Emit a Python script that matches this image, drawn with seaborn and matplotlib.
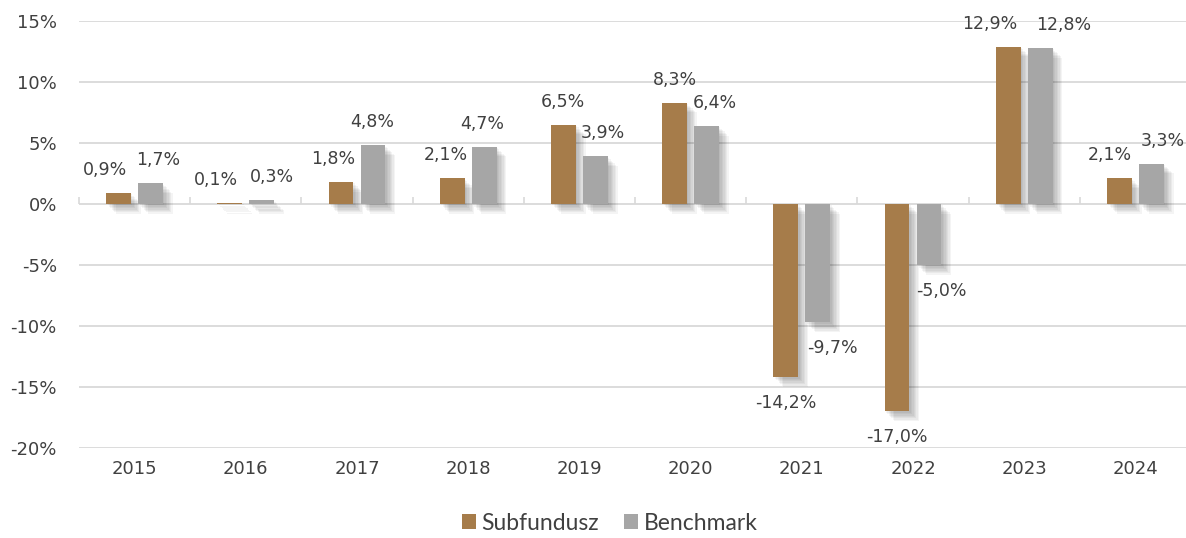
import numpy as np
import pandas as pd
import matplotlib
matplotlib.use("Agg")
import matplotlib.pyplot as plt
import matplotlib.patheffects as pe
import seaborn as sns

# ---- data ----
years = ["2015", "2016", "2017", "2018", "2019", "2020", "2021", "2022", "2023", "2024"]
subfundusz = [0.9, 0.1, 1.8, 2.1, 6.5, 8.3, -14.2, -17.0, 12.9, 2.1]
benchmark = [1.7, 0.3, 4.8, 4.7, 3.9, 6.4, -9.7, -5.0, 12.8, 3.3]
series_names = ["Subfundusz", "Benchmark"]
y_ticks = [-20, -15, -10, -5, 0, 5, 10, 15]
y_tick_labels = ["-20%", "-15%", "-10%", "-5%", "0%", "5%", "10%", "15%"]

# label horizontal nudges (pixels), mimicking the reference placement
sub_dx = [-14, -14, -8, -6, -1, 0, 0, 0, -18, -10]
ben_dx = [8, 10, -1, -2, 7, 8, 15, 12, 24, 11]

colors = ["#A67C4A", "#A6A6A6"]
text_color = "#404040"

df = pd.DataFrame({
    "year": years * 2,
    "value": subfundusz + benchmark,
    "series": [series_names[0]] * len(years) + [series_names[1]] * len(years),
})

sns.set_style("white")
plt.rcParams["font.family"] = ["DejaVu Sans"]

W, H = 1186, 538
fig = plt.figure(figsize=(W / 100, H / 100), dpi=100)
left, right_px, top_px, bot_px = 79, 79 + 1112, 21, 448
ax = fig.add_axes([left / W, (H - bot_px) / H, (right_px - left) / W, (bot_px - top_px) / H])

sns.barplot(data=df, x="year", y="value", hue="series", palette=colors,
            width=0.575, gap=0.22, ax=ax, saturation=1, legend=True,
            edgecolor="none", linewidth=0)

ax.set_ylim(-20, 15)
ax.set_xlim(-0.5, 9.5)
ax.set_yticks(y_ticks)
ax.set_yticklabels(y_tick_labels)
ax.set_xlabel("")
ax.set_ylabel("")
ax.grid(axis="y", color="#D9D9D9", linewidth=1.3)
ax.set_axisbelow(True)
for s in ax.spines.values():
    s.set_visible(False)
ax.tick_params(axis="y", length=0, pad=16, labelsize=13, labelcolor=text_color)
ax.tick_params(axis="x", length=0, pad=9, labelsize=13, labelcolor=text_color)

# zero axis line with category boundary ticks
sec = ax.secondary_xaxis(20 / 35)
sec.set_xticks(np.arange(-0.5, 10, 1))
sec.set_xticklabels([])
sec.tick_params(axis="x", length=5, width=1.2, color="#D9D9D9", direction="out")
sec.spines["bottom"].set_color("#D9D9D9")
sec.spines["bottom"].set_linewidth(1.3)
for k in ["top", "left", "right"]:
    sec.spines[k].set_visible(False)

# soft shadows
shadow = [pe.SimplePatchShadow(offset=(o, -o), shadow_rgbFace="black", alpha=0.045)
          for o in (1, 2, 3, 4, 5, 6, 7)] + [pe.Normal()]
for cont in ax.containers:
    for p in cont:
        p.set_path_effects(shadow)

# data labels
for cont, vals, dxs in zip(ax.containers, [subfundusz, benchmark], [sub_dx, ben_dx]):
    for p, v, dx in zip(cont, vals, dxs):
        xc = p.get_x() + p.get_width() / 2
        dy = 23 if v >= 0 else -26
        ax.annotate(f"{v:.1f}%".replace(".", ","), (xc, v), xytext=(dx, dy),
                    textcoords="offset pixels", ha="center", va="center",
                    fontsize=12.5, color=text_color, annotation_clip=False)

# legend
handles, labels = ax.get_legend_handles_labels()
ax.get_legend().remove()
fig.legend(handles, labels, loc="center", bbox_to_anchor=(610 / W, 1 - 523 / H),
           ncol=2, frameon=False, handlelength=0.6, handleheight=0.6,
           handletextpad=0.25, columnspacing=1.1,
           prop={"family": "Lato", "size": 16.5}, labelcolor=text_color)

fig.savefig("out.png", dpi=100)
